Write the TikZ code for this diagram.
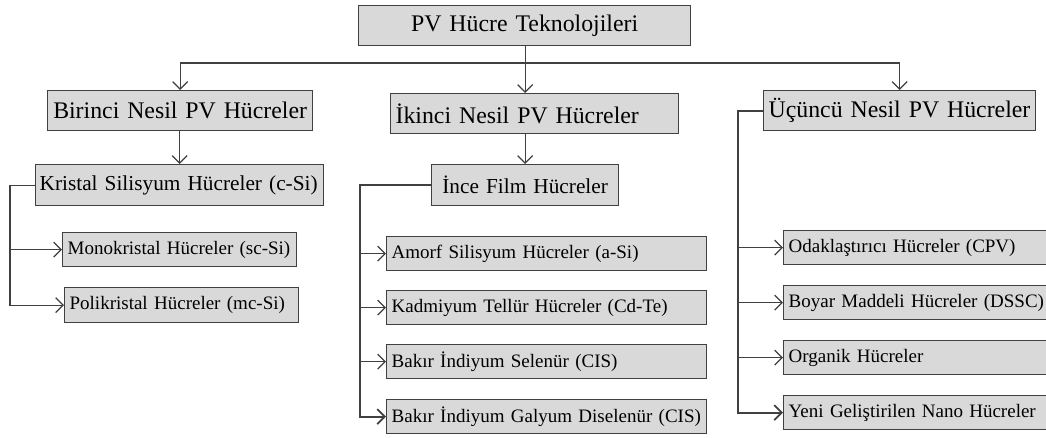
\documentclass[tikz,border=0pt]{standalone}
\usepackage{fontspec}
\setmainfont{Liberation Serif}
\usepackage{xcolor}
\usepackage{tikz}
\usetikzlibrary{arrows.meta}
\definecolor{boxgray}{HTML}{D9D9D9}
\definecolor{linegray}{HTML}{404040}
\newcommand\headfont{\fontsize{23.8}{26}\selectfont}
\newcommand\midfont{\fontsize{21.3}{24}\selectfont}
\newcommand\leaffont{\fontsize{19}{21}\selectfont}
\tikzstyle{box}=[draw=linegray,fill=boxgray,line width=1.3pt,inner ysep=0pt,anchor=north west]
\tikzstyle{head}=[box,font=\headfont,minimum height=40pt,inner xsep=0pt]
\tikzstyle{mid}=[box,font=\midfont,minimum height=41pt,inner xsep=6pt]
\tikzstyle{leaf}=[box,font=\leaffont,minimum height=34pt,inner xsep=5pt,align=left]
\tikzstyle{tiphead}=[>/.tip={Straight Barb[length=7.5pt,width=15pt]}]
\tikzstyle{conn}=[line width=1.2pt,draw=linegray,tiphead]
\tikzstyle{spine}=[line width=1.8pt,draw=linegray,tiphead]

\begin{document}
\begin{tikzpicture}[x=1pt,y=-1pt]
	\useasboundingbox (0,0) rectangle (1046,438);
	% levels
	\node[head,text width=332pt,align=center] (pvtech) at (358,5) {PV Hücre Teknolojileri};
	\node[head,text width=265pt,align=center] (nesil1) at (47,90) {Birinci Nesil PV Hücreler};
	\node[head,inner xsep=5pt,text width=278pt,align=left] (nesil2) at (390,93) {İkinci Nesil PV Hücreler};
	\node[head,inner xsep=5pt,text width=262pt,align=left] (nesil3) at (763,90) {Üçüncü Nesil PV Hücreler};
	\node[mid,inner xsep=4pt,text width=280pt,align=left] (kristal) at (35,164) {Kristal Silisyum Hücreler (c-Si)};
	\node[mid,text width=175pt,align=center] (ince) at (431,164) {İnce Film Hücreler};
	% leaves
	\node[leaf,text width=224pt] (mono) at (62,232) {Monokristal Hücreler (sc-Si)};
	\node[leaf,text width=224pt,minimum height=35pt] (poli) at (64,287) {Polikristal Hücreler (mc-Si)};
	\node[leaf,text width=310pt] (amorf) at (386,236) {Amorf Silisyum Hücreler (a-Si)};
	\node[leaf,text width=310pt] (cdte) at (386,290) {Kadmiyum Tellür Hücreler (Cd-Te)};
	\node[leaf,text width=310pt] (cis) at (386,344) {Bakır İndiyum Selenür (CIS)};
	\node[leaf,text width=310pt] (cigs) at (386,399) {Bakır İndiyum Galyum Diselenür (CIS)};
	\node[leaf,text width=260pt] (cpv) at (783,230) {Odaklaştırıcı Hücreler (CPV)};
	\node[leaf,text width=260pt] (dssc) at (783,285) {Boyar Maddeli Hücreler (DSSC)};
	\node[leaf,text width=260pt] (organik) at (783,340) {Organik Hücreler};
	\node[leaf,text width=260pt] (nano) at (783,395) {Yeni Geliştirilen Nano Hücreler};
	% connectors
	\draw[conn,->] (ince.north |- pvtech.south) -- (ince.north |- nesil2.north);
	\draw[conn,<->] (nesil1.north) -- ++(0,-27) -| (nesil3.north);
	\draw[conn,->] (kristal.north |- nesil1.south) -- (kristal.north);
	\draw[conn,->] (ince.north |- nesil2.south) -- (ince.north);
	\coordinate (spineA) at (10,0);
	\coordinate (spineB) at (360,0);
	\coordinate (spineC) at (738,0);
	\draw[conn,->] (kristal.west) -| (spineA |- poli.west) -- (poli.west);
	\draw[conn,->] (spineA |- mono.west) -- (mono.west);
	\draw[spine,->] (ince.west) -| (spineB |- cigs.west) -- (cigs.west);
	\foreach \leaf in {amorf,cdte,cis}
		\draw[conn,->] (spineB |- \leaf.west) -- (\leaf.west);
	\draw[spine,->] (nesil3.west) -| (spineC |- nano.west) -- (nano.west);
	\foreach \leaf in {cpv,dssc,organik}
		\draw[conn,->] (spineC |- \leaf.west) -- (\leaf.west);
\end{tikzpicture}
\end{document}
